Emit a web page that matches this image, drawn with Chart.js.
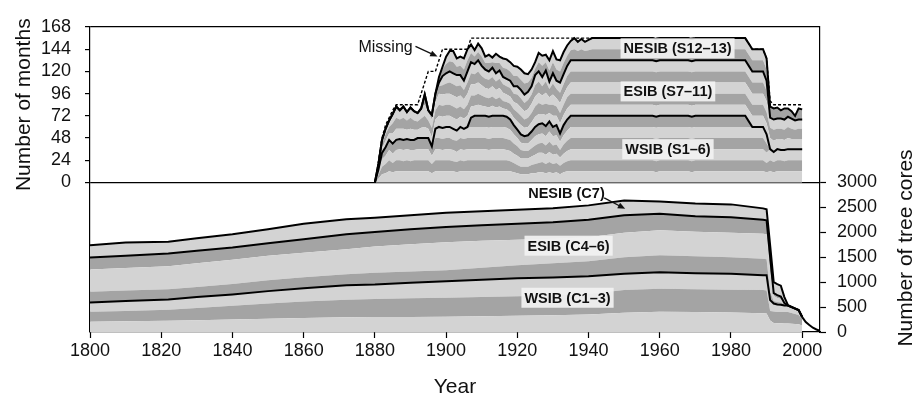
<!DOCTYPE html>
<html>
<head>
<meta charset="utf-8">
<title>Station months and tree cores per year</title>
<script src="https://cdn.jsdelivr.net/npm/chart.js@4.4.1/dist/chart.umd.min.js"></script>
<style>
  html, body { margin: 0; padding: 0; background: #fff; }
  #chart { display: block; }
</style>
</head>
<body>
<canvas id="chart" width="913" height="397"></canvas>
<script>
// upper panel: months of record per station (S1-S13)
const monthYears = [
  1880, 1881, 1882, 1883, 1884, 1885, 1886, 1887, 1888, 1889,
  1890, 1891, 1892, 1893, 1894, 1895, 1896, 1897, 1898, 1899,
  1900, 1901, 1902, 1903, 1904, 1905, 1906, 1907, 1908, 1909,
  1910, 1911, 1912, 1913, 1914, 1915, 1916, 1917, 1918, 1919,
  1920, 1921, 1922, 1923, 1924, 1925, 1926, 1927, 1928, 1929,
  1930, 1931, 1932, 1933, 1934, 1935, 1936, 1937, 1938, 1939,
  1940, 1941, 1942, 1958, 1959, 1960, 1968, 1969, 1970,
  1984, 1985, 1986, 1987, 1988, 1989, 1990, 1991, 1992, 1993,
  1994, 1995, 1996, 1997, 1998, 1999, 2000
];

const s1 = [
  0, 4, 9, 10, 12, 11, 12, 12, 12, 12,
  12, 12, 12, 12, 12, 12, 10, 12, 12, 12,
  12, 12, 12, 11, 12, 12, 12, 12, 12, 12,
  12, 12, 12, 12, 12, 12, 12, 12, 12, 11,
  10, 9, 9, 9, 10, 10, 11, 11, 10, 11,
  10, 11, 9, 11, 12, 12, 12, 12, 12, 12,
  12, 12, 12, 12, 11, 12, 12, 11, 12,
  12, 12, 12, 12, 12, 12, 11, 12, 11, 12,
  12, 12, 12, 12, 12, 12, 12
];
const s2 = [
  0, 4, 8, 10, 12, 10, 12, 12, 11, 12,
  11, 12, 12, 12, 12, 12, 10, 12, 12, 12,
  12, 12, 11, 11, 12, 11, 12, 12, 12, 12,
  12, 12, 12, 12, 12, 12, 12, 12, 11, 10,
  9, 8, 8, 8, 9, 10, 10, 11, 10, 11,
  10, 10, 9, 10, 11, 12, 12, 12, 12, 12,
  12, 12, 12, 12, 12, 12, 12, 12, 12,
  12, 12, 12, 12, 12, 12, 10, 12, 11, 12,
  12, 11, 12, 12, 12, 12, 12
];
const s3 = [
  0, 3, 8, 9, 11, 10, 11, 12, 12, 12,
  12, 11, 12, 12, 12, 12, 9, 12, 12, 11,
  12, 12, 12, 11, 12, 12, 12, 12, 12, 12,
  12, 12, 11, 12, 12, 12, 12, 11, 11, 10,
  10, 9, 9, 9, 9, 10, 11, 10, 10, 11,
  10, 10, 9, 10, 11, 12, 12, 12, 12, 12,
  12, 12, 12, 12, 12, 12, 12, 12, 12,
  12, 12, 12, 12, 12, 12, 11, 12, 11, 12,
  11, 12, 12, 12, 12, 12, 12
];
const s4 = [
  0, 3, 7, 9, 11, 11, 11, 11, 11, 11,
  11, 11, 12, 12, 12, 12, 10, 12, 12, 12,
  12, 12, 11, 12, 12, 12, 12, 12, 12, 12,
  12, 12, 12, 12, 12, 12, 12, 12, 12, 11,
  10, 9, 8, 8, 9, 10, 10, 11, 10, 11,
  10, 10, 8, 10, 11, 12, 12, 12, 12, 12,
  12, 12, 12, 12, 12, 12, 12, 12, 12,
  12, 12, 12, 12, 12, 12, 10, 0, 0, 0,
  0, 0, 0, 0, 0, 0, 0
];
const s5 = [
  0, 0, 0, 0, 0, 0, 0, 0, 0, 0,
  0, 0, 0, 0, 0, 0, 0, 10, 12, 12,
  12, 12, 12, 11, 12, 11, 12, 12, 12, 12,
  12, 12, 12, 12, 12, 12, 12, 12, 11, 10,
  9, 8, 8, 8, 9, 10, 10, 10, 10, 11,
  10, 10, 9, 10, 11, 12, 12, 12, 12, 12,
  12, 12, 12, 12, 12, 12, 12, 12, 12,
  12, 12, 12, 12, 12, 12, 10, 0, 0, 0,
  0, 0, 0, 0, 0, 0, 0
];
const s6 = [
  0, 0, 0, 0, 0, 0, 0, 0, 0, 0,
  0, 0, 0, 0, 0, 0, 0, 0, 0, 0,
  0, 0, 0, 0, 0, 0, 0, 10, 12, 12,
  12, 12, 12, 12, 12, 12, 12, 12, 11, 10,
  9, 9, 8, 9, 9, 10, 11, 11, 11, 11,
  10, 11, 9, 11, 12, 12, 12, 12, 12, 12,
  12, 12, 12, 12, 12, 12, 12, 12, 12,
  12, 6, 0, 0, 0, 0, 0, 0, 0, 0,
  0, 0, 0, 0, 0, 0, 0
];
const s7 = [
  0, 2, 5, 7, 7, 11, 12, 11, 12, 10,
  12, 11, 9, 11, 12, 10, 10, 10, 12, 12,
  12, 12, 12, 12, 11, 11, 12, 12, 11, 12,
  11, 10, 10, 11, 9, 10, 8, 8, 8, 8,
  9, 10, 9, 9, 10, 11, 11, 10, 12, 9,
  12, 10, 11, 11, 12, 12, 12, 12, 12, 12,
  12, 12, 12, 12, 12, 12, 12, 12, 12,
  12, 12, 12, 12, 12, 12, 12, 12, 12, 11,
  12, 11, 12, 11, 11, 11, 11
];
const s8 = [
  0, 2, 5, 7, 7, 11, 12, 10, 12, 10,
  12, 10, 9, 10, 12, 9, 10, 10, 12, 12,
  12, 12, 12, 12, 11, 10, 12, 12, 11, 12,
  11, 10, 10, 10, 9, 10, 8, 8, 9, 9,
  10, 10, 9, 10, 10, 11, 12, 10, 12, 9,
  12, 10, 11, 11, 12, 12, 12, 12, 12, 12,
  12, 12, 12, 12, 12, 12, 12, 12, 12,
  12, 12, 12, 12, 12, 12, 12, 11, 12, 11,
  11, 11, 12, 11, 10, 11, 11
];
const s9 = [
  0, 2, 4, 6, 7, 10, 12, 10, 12, 9,
  11, 10, 9, 11, 12, 8, 9, 9, 12, 12,
  12, 12, 12, 12, 12, 11, 12, 12, 12, 12,
  11, 10, 10, 11, 10, 10, 9, 8, 8, 8,
  9, 9, 9, 9, 10, 11, 11, 10, 12, 8,
  11, 9, 11, 11, 11, 12, 12, 12, 12, 12,
  12, 12, 12, 12, 12, 12, 12, 12, 12,
  12, 12, 12, 12, 12, 12, 12, 11, 11, 11,
  11, 11, 11, 11, 10, 10, 10
];
const s10 = [
  0, 0, 0, 0, 0, 0, 0, 0, 0, 0,
  0, 0, 0, 0, 11, 3, 5, 6, 8, 10,
  11, 12, 12, 12, 11, 10, 12, 12, 11, 12,
  10, 10, 10, 10, 9, 10, 9, 9, 9, 9,
  10, 10, 9, 10, 10, 12, 12, 10, 12, 9,
  12, 10, 11, 11, 12, 12, 12, 12, 12, 12,
  12, 12, 12, 12, 12, 12, 12, 12, 12,
  12, 12, 12, 12, 12, 12, 11, 0, 0, 0,
  0, 0, 0, 0, 0, 0, 0
];
const s11 = [
  0, 0, 0, 0, 0, 0, 0, 0, 0, 0,
  0, 0, 0, 0, 0, 0, 0, 3, 4, 10,
  11, 12, 12, 12, 11, 10, 12, 12, 11, 12,
  11, 10, 9, 10, 9, 9, 8, 8, 8, 8,
  9, 9, 9, 9, 9, 11, 11, 10, 12, 8,
  11, 9, 11, 11, 11, 12, 12, 12, 12, 12,
  12, 12, 12, 12, 12, 12, 12, 12, 12,
  12, 12, 12, 12, 12, 12, 11, 0, 0, 0,
  0, 0, 0, 0, 0, 0, 0
];
const s12 = [
  0, 0, 0, 0, 0, 0, 0, 0, 0, 0,
  0, 0, 0, 0, 0, 0, 0, 0, 6, 8,
  10, 11, 12, 9, 10, 12, 12, 10, 8, 9,
  10, 7, 9, 6, 11, 8, 10, 11, 10, 11,
  11, 11, 12, 10, 9, 7, 10, 12, 9, 12,
  12, 12, 12, 12, 11, 11, 12, 10, 12, 10,
  11, 12, 12, 12, 12, 12, 12, 12, 12,
  12, 12, 12, 12, 12, 12, 12, 12, 12, 12,
  9, 12, 9, 8, 5, 12, 11
];
const s13 = [
  0, 0, 0, 0, 0, 0, 0, 0, 0, 0,
  0, 0, 0, 0, 0, 0, 0, 0, 0, 2,
  8, 11, 12, 9, 10, 12, 12, 9, 7, 9,
  9, 7, 9, 5, 10, 7, 10, 10, 10, 11,
  10, 11, 11, 9, 9, 7, 10, 11, 8, 11,
  12, 11, 12, 12, 11, 10, 12, 10, 11, 10,
  11, 12, 12, 12, 12, 12, 12, 12, 12,
  12, 12, 12, 12, 12, 12, 12, 0, 0, 0,
  0, 0, 0, 0, 0, 0, 0
];

// months that could have been recorded (dotted "Missing" outline)
const possibleMonths = [
  0, 22, 48, 62, 70, 78, 84, 84, 84, 84,
  84, 84, 84, 96, 108, 120, 120, 120, 132, 144,
  144, 144, 144, 144, 144, 144, 144, 156, 156, 156,
  156, 156, 156, 156, 156, 156, 156, 156, 156, 156,
  156, 156, 156, 156, 156, 156, 156, 156, 156, 156,
  156, 156, 156, 156, 156, 156, 156, 156, 156, 156,
  156, 156, 156, 156, 156, 156, 156, 156, 156,
  156, 150, 144, 144, 144, 144, 134, 88, 84, 84,
  84, 84, 84, 84, 84, 84, 84
];

// lower panel: tree cores per chronology (C1-C7)
const coreYears = [
  1800, 1810, 1822, 1830, 1840, 1850, 1860, 1872, 1880, 1890,
  1900, 1910, 1920, 1930, 1940, 1950, 1960, 1970, 1980, 1989,
  1990, 1991, 1992, 1993, 1994, 1995, 1996, 1998, 1999, 2000
];
const c1 = [206, 215, 225, 235, 250, 265, 280, 295, 300, 303, 307, 315, 325, 335, 350, 385, 405, 400, 390, 375, 370, 230, 180, 175, 175, 172, 170, 160, 155, 130];
const c2 = [200, 205, 220, 245, 275, 305, 330, 350, 360, 372, 380, 385, 390, 395, 410, 455, 465, 460, 460, 465, 460, 190, 230, 225, 225, 228, 230, 200, 185, 130];
const c3 = [184, 200, 208, 220, 228, 250, 270, 295, 293, 315, 333, 350, 365, 365, 360, 330, 330, 320, 320, 300, 310, 220, 160, 150, 145, 130, 130, 110, 100, 40];
const c4 = [217, 210, 207, 205, 212, 220, 220, 220, 237, 225, 220, 240, 260, 285, 300, 330, 340, 340, 330, 330, 320, 160, 50, 50, 45, 20, 0, 0, 0, 0];
const c5 = [446, 455, 460, 475, 485, 490, 490, 500, 523, 545, 560, 540, 510, 490, 480, 490, 500, 490, 490, 500, 500, 400, 100, 80, 70, 20, 0, 0, 0, 0];
const c6 = [240, 245, 253, 250, 243, 250, 270, 300, 294, 300, 307, 310, 320, 330, 350, 350, 330, 310, 310, 280, 280, 300, 60, 60, 50, 10, 0, 0, 0, 0];
const c7 = [247, 265, 237, 250, 267, 280, 310, 300, 286, 280, 283, 280, 280, 280, 290, 300, 250, 260, 260, 230, 220, 240, 220, 220, 220, 120, 10, 5, 0, 0];

// cores left after the last banded year
const tailYears = [2000, 2001, 2002, 2003, 2004, 2005];
const tailCores = [300, 200, 140, 85, 50, 25];

const yearTicks = [1800, 1820, 1840, 1860, 1880, 1900, 1920, 1940, 1960, 1980, 2000];
const monthTicks = [0, 24, 48, 72, 96, 120, 144, 168];
const coreTicks = [0, 500, 1000, 1500, 2000, 2500, 3000];

const LIGHT = "#d3d3d3";
const DARK = "#a4a4a4";
const FONT = "'Liberation Sans', Arial, sans-serif";

const stations = [s1, s2, s3, s4, s5, s6, s7, s8, s9, s10, s11, s12, s13];
const cores = [c1, c2, c3, c4, c5, c6, c7];

const pairs = (xs, ys) => xs.map((x, i) => ({ x: x, y: ys[i] }));

const datasets = [];
datasets.push({
  label: "Missing",
  data: pairs(monthYears, possibleMonths),
  yAxisID: "yM",
  stack: "possible",
  fill: false,
  borderColor: "#000",
  borderWidth: 1.4,
  borderDash: [3, 2],
  pointRadius: 0,
});

// tops of S6, S11 and S13 are the regional totals
stations.forEach((values, i) => {
  const edge = i === 5 || i === 10 || i === 12;
  datasets.push({
    label: "S" + (i + 1),
    data: pairs(monthYears, values),
    yAxisID: "yM",
    stack: "months",
    fill: i === 0 ? "origin" : "-1",
    backgroundColor: i % 2 === 0 ? LIGHT : DARK,
    borderColor: edge ? "#000" : "transparent",
    borderWidth: edge ? 2 : 0,
    pointRadius: 0,
  });
});

cores.forEach((values, i) => {
  const edge = i === 2 || i === 5 || i === 6;
  datasets.push({
    label: "C" + (i + 1),
    data: pairs(coreYears, values),
    yAxisID: "yC",
    stack: "cores",
    fill: i === 0 ? "origin" : "-1",
    backgroundColor: i % 2 === 0 ? LIGHT : DARK,
    borderColor: edge ? "#000" : "transparent",
    borderWidth: edge ? 2 : 0,
    pointRadius: 0,
  });
});

datasets.push({
  label: "Cores tail",
  data: pairs(tailYears, tailCores),
  yAxisID: "yC",
  stack: "tail",
  fill: false,
  borderColor: "#000",
  borderWidth: 2,
  pointRadius: 0,
});

function arrow(ctx, x1, y1, x2, y2) {
  const a = Math.atan2(y2 - y1, x2 - x1);
  ctx.beginPath();
  ctx.moveTo(x1, y1);
  ctx.lineTo(x2 - 4 * Math.cos(a), y2 - 4 * Math.sin(a));
  ctx.stroke();
  ctx.beginPath();
  ctx.moveTo(x2, y2);
  ctx.lineTo(x2 - 8 * Math.cos(a - 0.4), y2 - 8 * Math.sin(a - 0.4));
  ctx.lineTo(x2 - 8 * Math.cos(a + 0.4), y2 - 8 * Math.sin(a + 0.4));
  ctx.closePath();
  ctx.fill();
}

function boxedLabel(ctx, text, cx, cy) {
  ctx.font = "bold 14.5px " + FONT;
  const w = ctx.measureText(text).width;
  ctx.fillStyle = "rgba(242,242,242,0.92)";
  ctx.fillRect(cx - w / 2 - 3, cy - 10, w + 6, 20);
  ctx.fillStyle = "#111";
  ctx.fillText(text, cx, cy + 1);
}

const panelText = {
  id: "panelText",
  afterDraw(chart) {
    const { ctx } = chart;
    const { x, yM, yC } = chart.scales;
    ctx.save();
    ctx.textAlign = "center";
    ctx.textBaseline = "middle";

    boxedLabel(ctx, "NESIB (S12\u201313)", x.getPixelForValue(1965), yM.getPixelForValue(145));
    boxedLabel(ctx, "ESIB (S7\u201311)", x.getPixelForValue(1962.3), yM.getPixelForValue(98.4));
    boxedLabel(ctx, "WSIB (S1\u20136)", x.getPixelForValue(1962.3), yM.getPixelForValue(36));
    boxedLabel(ctx, "ESIB (C4\u20136)", x.getPixelForValue(1934.4), yC.getPixelForValue(1731));
    boxedLabel(ctx, "WSIB (C1\u20133)", x.getPixelForValue(1934.1), yC.getPixelForValue(687));

    ctx.font = "bold 14.5px " + FONT;
    ctx.fillStyle = "#111";
    ctx.fillText("NESIB (C7)", x.getPixelForValue(1933.8), yC.getPixelForValue(2765));
    ctx.font = "16px " + FONT;
    ctx.fillText("Missing", x.getPixelForValue(1883), yM.getPixelForValue(146));

    ctx.strokeStyle = "#111";
    ctx.lineWidth = 1.3;
    arrow(ctx, x.getPixelForValue(1891.4), yM.getPixelForValue(147),
      x.getPixelForValue(1897.6), yM.getPixelForValue(136));
    arrow(ctx, x.getPixelForValue(1944.4), yC.getPixelForValue(2690),
      x.getPixelForValue(1950.3), yC.getPixelForValue(2470));

    // axis titles
    ctx.font = "21px " + FONT;
    ctx.textBaseline = "alphabetic";
    ctx.fillText("Year", (x.left + x.right) / 2, 393);

    ctx.save();
    ctx.translate(30, (yM.getPixelForValue(0) + yM.getPixelForValue(168)) / 2);
    ctx.rotate(-Math.PI / 2);
    ctx.fillText("Number of months", 0, 0);
    ctx.restore();

    ctx.save();
    ctx.translate(912, 248);
    ctx.rotate(-Math.PI / 2);
    ctx.fillText("Number of tree cores", 0, 0);
    ctx.restore();

    ctx.restore();
  },
};

const tickFont = { family: FONT, size: 18 };

new Chart(document.getElementById("chart"), {
  type: "line",
  data: { datasets: datasets },
  options: {
    responsive: false,
    animation: false,
    devicePixelRatio: 1,
    layout: { padding: { top: 27, left: 0, right: 0, bottom: 0 } },
    elements: { line: { tension: 0 } },
    plugins: {
      legend: { display: false },
      tooltip: { enabled: false },
      filler: { drawTime: "beforeDatasetsDraw" },
    },
    scales: {
      x: {
        type: "linear",
        min: 1800,
        max: 2005,
        z: 1,
        afterBuildTicks: (s) => { s.ticks = yearTicks.map((v) => ({ value: v })); },
        afterFit: (s) => { s.height = 65; },
        grid: { display: true, drawOnChartArea: false, drawTicks: true, tickLength: 6, tickColor: "#000", tickWidth: 1.2 },
        border: { display: true, color: "#000", width: 1.2 },
        ticks: { font: tickFont, color: "#111", padding: 2, maxRotation: 0, autoSkip: false, callback: (v) => String(v) },
      },
      yM: {
        type: "linear",
        position: "left",
        stacked: true,
        min: -161.6,
        max: 168,
        z: 1,
        afterBuildTicks: (s) => { s.ticks = monthTicks.map((v) => ({ value: v })); },
        afterFit: (s) => { s.width = 90; },
        grid: {
          display: true,
          drawOnChartArea: true,
          drawTicks: true,
          tickLength: 5,
          tickColor: "#000",
          tickWidth: 1.2,
          lineWidth: 1.2,
          color: (c) => (c.tick && (c.tick.value === 0 || c.tick.value === 168) ? "#000" : "transparent"),
        },
        border: { display: true, color: "#000", width: 1.2 },
        ticks: { font: tickFont, color: "#111", padding: 14, autoSkip: false, callback: (v) => String(v) },
      },
      yC: {
        type: "linear",
        position: "right",
        stacked: true,
        min: 0,
        max: 6118,
        z: 1,
        afterBuildTicks: (s) => { s.ticks = coreTicks.map((v) => ({ value: v })); },
        afterFit: (s) => { s.width = 93; },
        grid: { display: true, drawOnChartArea: false, drawTicks: true, tickLength: 6, tickColor: "#000", tickWidth: 1.2 },
        border: { display: true, color: "#000", width: 1.2 },
        ticks: { font: tickFont, color: "#111", padding: 11, autoSkip: false, callback: (v) => String(v) },
      },
    },
  },
  plugins: [panelText],
});
</script>
</body>
</html>
